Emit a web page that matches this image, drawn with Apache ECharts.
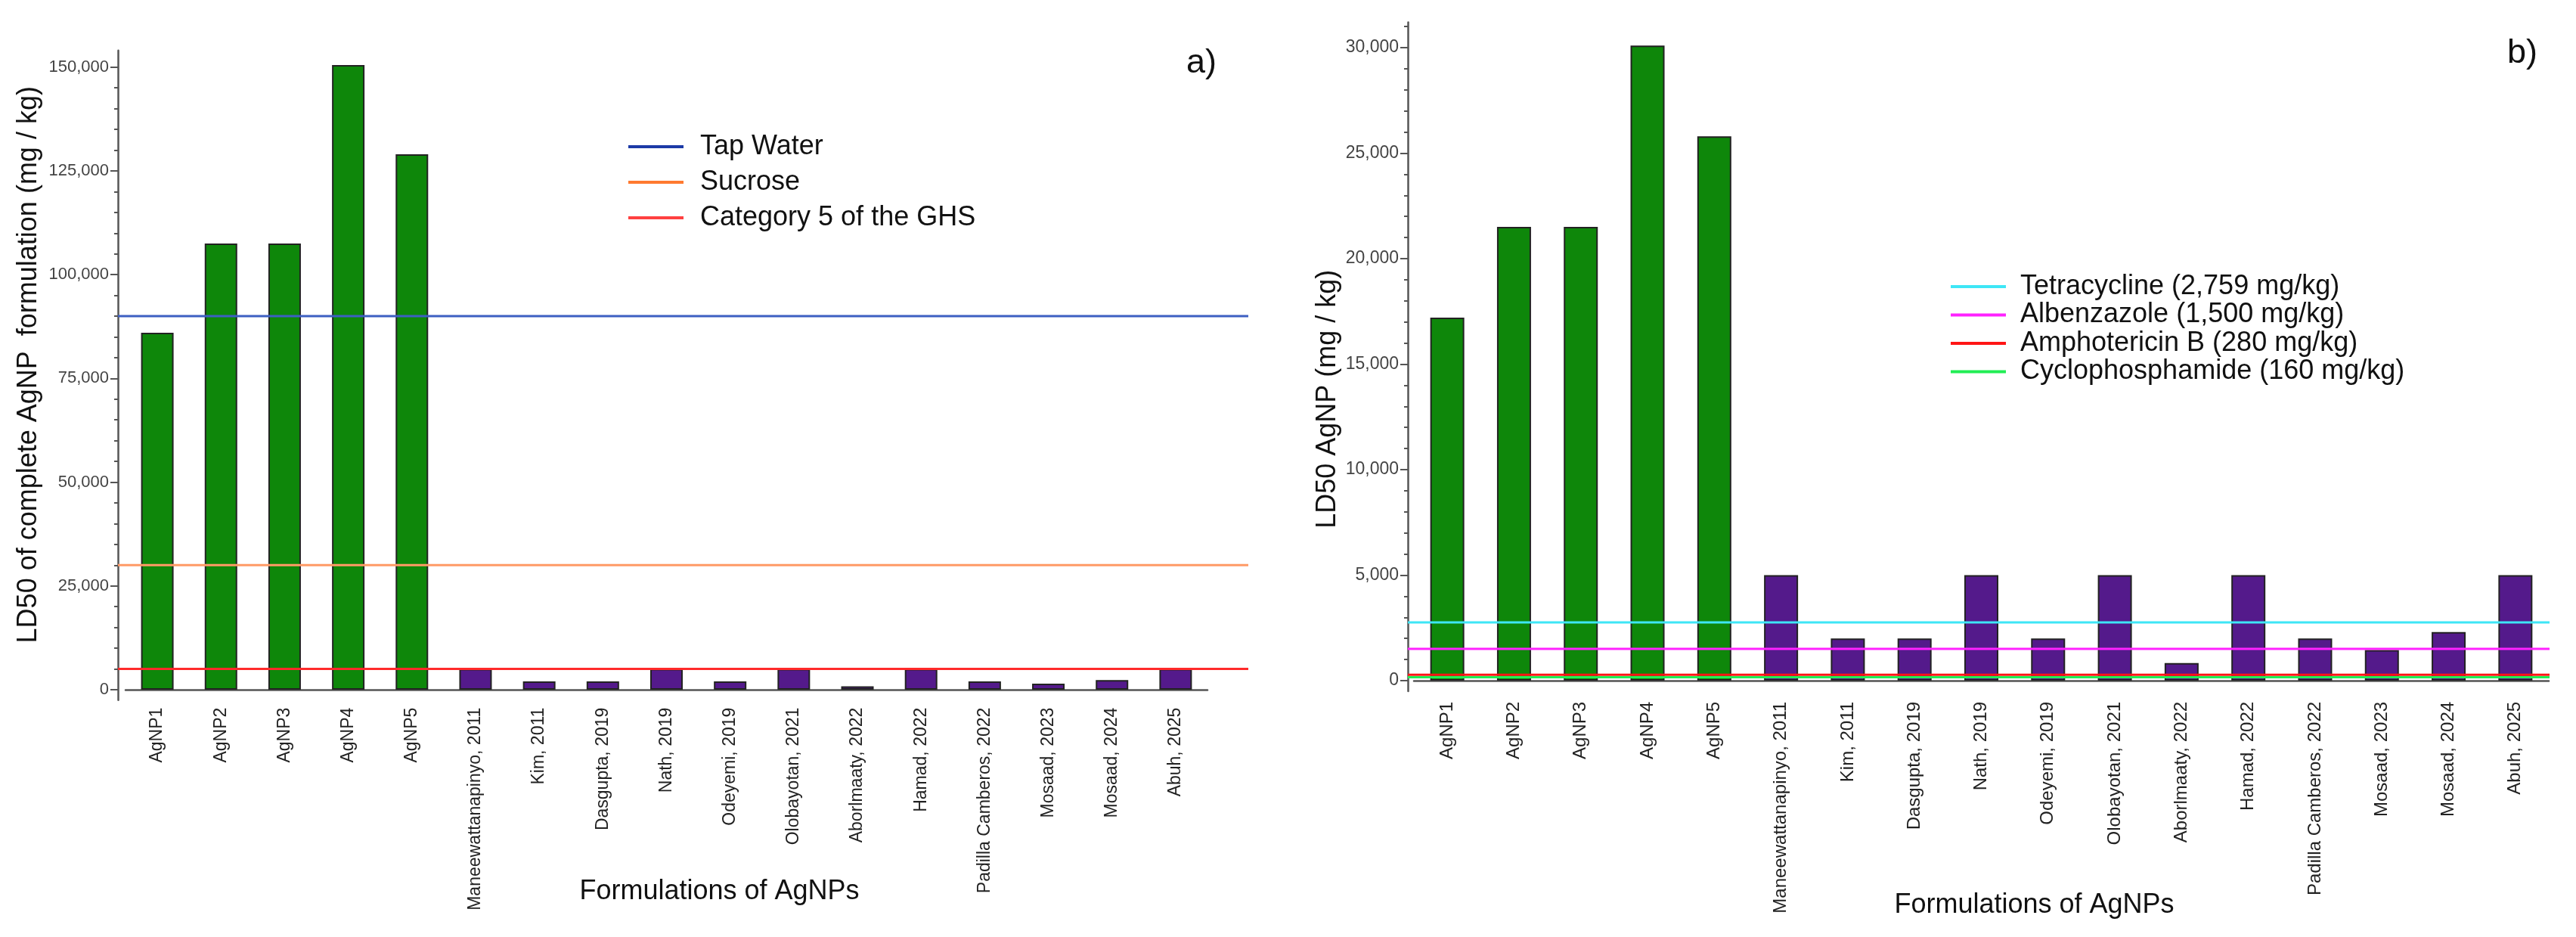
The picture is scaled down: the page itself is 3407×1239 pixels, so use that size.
<!DOCTYPE html>
<html><head><meta charset="utf-8">
<script src="https://cdn.jsdelivr.net/npm/echarts@6/dist/echarts.min.js"></script>
<style>html,body{margin:0;padding:0;background:#fff}#c{width:3407px;height:1239px}</style>
</head><body><div id="c"></div>
<script>
// ---------- data ----------
const ownNames = ['AgNP1','AgNP2','AgNP3','AgNP4','AgNP5'];
const litNames = ['Maneewattanapinyo, 2011','Kim, 2011','Dasgupta, 2019','Nath, 2019','Odeyemi, 2019','Olobayotan, 2021','Aborlmaaty, 2022','Hamad, 2022','Padilla Camberos, 2022','Mosaad, 2023','Mosaad, 2024','Abuh, 2025'];
// panel a: LD50 of complete AgNP formulation (mg/kg)
const ownFormulationLD50 = [86000,107500,107500,150500,129000];
const litFormulationLD50 = [5000,2000,2000,5000,2000,5000,830,5000,2000,1450,2300,5000];
// panel b: LD50 AgNP (mg/kg)
const ownAgNPLD50 = [17200,21500,21500,30100,25800];
const litAgNPLD50 = [5000,2000,2000,5000,2000,5000,830,5000,2000,1450,2300,5000];
// reference lines
const refNamesA = ['Tap Water','Sucrose','Category 5 of the GHS'];
const refValuesA = [90000,30000,5000];
const refNamesB = ['Tetracycline (2,759 mg/kg)','Albenzazole (1,500 mg/kg)','Amphotericin B (280 mg/kg)','Cyclophosphamide (160 mg/kg)'];
const refValuesB = [2759,1500,280,160];
// tick labels
const yTicksA = [0,25000,50000,75000,100000,125000,150000];
const yTicksB = [0,5000,10000,15000,20000,25000,30000];

// ---------- styles ----------
const FONT = "'Liberation Sans', Arial, sans-serif";
const GREEN = '#0e870a', PURPLE = '#541a8b', BORDER = '#222';
const lineColorsA = ['#3d5fc2','#ff9a66','#ff2a2a'];
const legendColorsA = ['#1c3aa6','#ff7a30','#ff4040'];
const lineColorsB = ['#3ee6f6','#ff22ff','#ff1515','#22ee55'];

const cats = ownNames.concat(litNames);
function minorTicks(major){
  const out=[]; const step=(major[1]-major[0])/5;
  for(let i=0;i<major.length-1;i++){for(let k=1;k<5;k++)out.push(major[i]+k*step);}
  for(let k=1;k<5;k++){out.push(major[major.length-1]+k*step);}
  return out;
}
const fmt = v => Number(v).toLocaleString('en-US');

const A = {min:-2500, max:154000, top:66.8, height:858.9, barLeft:166, barWidthPx:1431, lineLeft:156, lineWidthPx:1495, off:10};
const B = {min:-500, max:31200, top:29.5, height:884.4, barLeft:1870, barWidthPx:1501, lineLeft:1862, lineWidthPx:1510, off:8};

function yMain(grid, P, ticks, fs, name, nameGap, namePad){
  return {type:'value', gridIndex:grid, position:'left', min:P.min, max:P.max, offset:P.off,
    axisLine:{show:true, lineStyle:{color:'#555', width:2.5}},
    axisTick:{show:true, length:10, customValues:ticks, lineStyle:{color:'#555', width:2}},
    axisLabel:{show:true, customValues:ticks, formatter:fmt, fontSize:fs, color:'#444', margin:12, fontFamily:FONT},
    splitLine:{show:false}, minorTick:{show:false},
    name:name, nameLocation:'middle', nameGap:nameGap, nameMoveOverlap:false,
    nameTextStyle:{fontSize:36, color:'#111', fontFamily:FONT, padding:namePad}};
}
function yMinor(grid, P, ticks){
  return {type:'value', gridIndex:grid, position:'left', min:P.min, max:P.max, offset:P.off,
    axisLine:{show:false}, axisTick:{show:true, length:5, customValues:minorTicks(ticks).filter(v=>v<=P.max), lineStyle:{color:'#555', width:2}},
    axisLabel:{show:false}, splitLine:{show:false}};
}
function yHidden(grid, P){
  return {type:'value', gridIndex:grid, min:P.min, max:P.max, show:false, splitLine:{show:false}};
}
function xCat(grid, fs, margin, nameGap){
  return {type:'category', gridIndex:grid, data:cats,
    axisLine:{show:true, onZero:true, onZeroAxisIndex: grid===0?0:3, lineStyle:{color:'#555', width:2.5}},
    axisTick:{show:false},
    axisLabel:{interval:0, rotate:90, fontSize:fs, color:'#222', margin:margin, fontFamily:FONT},
    name:'Formulations of AgNPs', nameLocation:'middle', nameGap:nameGap, nameMoveOverlap:false,
    nameTextStyle:{fontSize:36, color:'#111', fontFamily:FONT, padding:[0,0,0,140]}};
}
function xHidden(grid){ return {type:'value', gridIndex:grid, min:0, max:1, show:false, splitLine:{show:false}}; }

function bars(xi, yi, own, lit, w){
  const pad = own.map(()=> '-'), pad2 = lit.map(()=> '-');
  return [
    {type:'bar', xAxisIndex:xi, yAxisIndex:yi, data:own.concat(pad2), barWidth:w, barGap:'-100%',
     itemStyle:{color:GREEN, borderColor:BORDER, borderWidth:2}, silent:true, z:2},
    {type:'bar', xAxisIndex:xi, yAxisIndex:yi, data:pad.concat(lit), barWidth:w, barGap:'-100%',
     itemStyle:{color:PURPLE, borderColor:BORDER, borderWidth:2}, silent:true, z:2}
  ];
}
function refLines(xi, yi, names, vals, colors){
  return names.map((n,i)=>({type:'line', name:n, xAxisIndex:xi, yAxisIndex:yi,
    data:[[0,vals[i]],[1,vals[i]]], symbol:'none', silent:true, z:5,
    itemStyle:{color:colors[i]}, lineStyle:{color:colors[i], width:3}}));
}

const option = {
  backgroundColor:'#fff',
  animation:false,
  textStyle:{fontFamily:FONT},
  title:[
    {text:'a)', left:1564, top:56, textStyle:{fontSize:45, fontWeight:'normal', color:'#111', fontFamily:FONT}},
    {text:'b)', left:3311, top:43, textStyle:{fontSize:45, fontWeight:'normal', color:'#111', fontFamily:FONT}}
  ],
  legend:[
    {orient:'vertical', left:826, top:171, padding:5, icon:'rect', itemWidth:73, itemHeight:4, itemGap:11,
     data:refNamesA.map((n,i)=>({name:n, itemStyle:{color:legendColorsA[i]}})),
     textStyle:{fontSize:36, color:'#111', fontFamily:FONT, padding:[0,0,0,17]}},
    {orient:'vertical', left:2575, top:356, padding:5, icon:'rect', itemWidth:73, itemHeight:4, itemGap:1.5,
     data:refNamesB.map((n,i)=>({name:n, itemStyle:{color:lineColorsB[i]}})),
     textStyle:{fontSize:36, color:'#111', fontFamily:FONT, padding:[0,0,0,14]}}
  ],
  grid:[
    {left:A.barLeft, top:A.top, width:A.barWidthPx, height:A.height, containLabel:false, outerBoundsMode:'none'},
    {left:A.lineLeft, top:A.top, width:A.lineWidthPx, height:A.height, containLabel:false, outerBoundsMode:'none'},
    {left:B.barLeft, top:B.top, width:B.barWidthPx, height:B.height, containLabel:false, outerBoundsMode:'none'},
    {left:B.lineLeft, top:B.top, width:B.lineWidthPx, height:B.height, containLabel:false, outerBoundsMode:'none'}
  ],
  xAxis:[ xCat(0, 23, 10, 235), xHidden(1), xCat(2, 24, 14, 265), xHidden(3) ],
  yAxis:[
    yMain(0, A, yTicksA, 22, 'LD50 of complete AgNP  formulation (mg / kg)', 100, [0,0,0,28]),
    yMinor(0, A, yTicksA),
    yHidden(1, A),
    yMain(2, B, yTicksB, 23, 'LD50 AgNP (mg / kg)', 88, [0,112,0,0]),
    yMinor(2, B, yTicksB),
    yHidden(3, B)
  ],
  series:[].concat(
    bars(0, 0, ownFormulationLD50, litFormulationLD50, 43),
    refLines(1, 2, refNamesA, refValuesA, lineColorsA),
    bars(2, 3, ownAgNPLD50, litAgNPLD50, 45),
    refLines(3, 5, refNamesB, refValuesB, lineColorsB)
  )
};
const chart = echarts.init(document.getElementById('c'), null, {renderer:'canvas'});
chart.setOption(option);
</script></body></html>
